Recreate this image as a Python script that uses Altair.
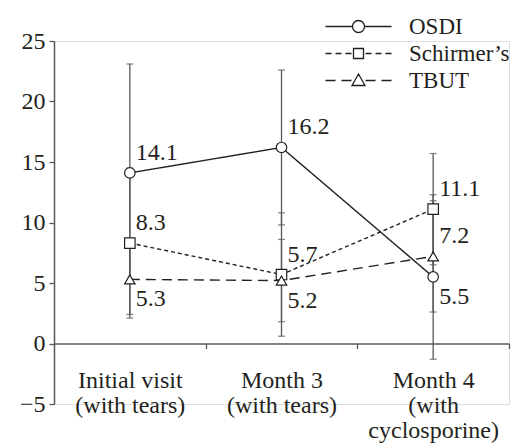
import altair as alt
import pandas as pd

# ---- data ----
visit_lines = [["Initial visit", "(with tears)"],
               ["Month 3", "(with tears)"],
               ["Month 4", "(with", "cyclosporine)"]]
series = ["OSDI", "Schirmer\u2019s", "TBUT"]
osdi_mean = [14.1, 16.2, 5.5]
osdi_sd = [9.0, 6.4, 6.8]
schirmer_mean = [8.3, 5.7, 11.1]
schirmer_sd = [6.2, 5.1, 4.6]
tbut_mean = [5.3, 5.2, 7.2]
tbut_sd = [2.9, 3.4, 4.6]
y_ticks = [-5, 0, 5, 10, 15, 20, 25]

means = [osdi_mean, schirmer_mean, tbut_mean]
sds = [osdi_sd, schirmer_sd, tbut_sd]
rows = []
for s, m, sd in zip(series, means, sds):
    for i in range(len(visit_lines)):
        rows.append({"series": s, "idx": i, "mean": m[i],
                     "lo": round(m[i] - sd[i], 2), "hi": round(m[i] + sd[i], 2)})
df = pd.DataFrame(rows)

# ---- layout / style ----
W, H = 455, 363
INK = "#231f20"
GREY = "#58595b"
FONT = "Liberation Serif"
FS = 24
y_lo, y_hi = y_ticks[0], y_ticks[-1]
zero_offset = -H * (0 - y_lo) / (y_hi - y_lo)
n = len(visit_lines)
step = W / n

label_arr = "[" + ",".join("[" + ",".join("'" + t + "'" for t in lines) + "]" for lines in visit_lines) + "]"

xscale = alt.Scale(domain=[-0.5, n - 0.5], nice=False, zero=False)
yscale = alt.Scale(domain=[y_lo, y_hi], nice=False, zero=False)
xaxis = alt.Axis(values=[i + 0.5 for i in range(n)], orient="bottom", offset=zero_offset,
                 labelExpr=f"{label_arr}[round(datum.value - 0.5)]",
                 labelOffset=-step / 2, labelPadding=20, labelFontSize=FS, labelLineHeight=25,
                 labelColor=INK, labelFont=FONT, labelAngle=0, labelFlush=False, labelOverlap=False,
                 domainColor=GREY, domainWidth=1.5, tickColor=GREY, tickWidth=1.3, tickSize=5,
                 grid=False, title=None)
yaxis = alt.Axis(values=y_ticks, labelFontSize=FS, labelColor=INK, labelFont=FONT, labelPadding=4,
                 domainColor=GREY, domainWidth=1.5, tickColor=GREY, tickWidth=1.3, tickSize=5,
                 grid=False, title=None)

X = alt.X("idx:Q", scale=xscale, axis=xaxis, title=None)

def Y(field):
    return alt.Y(field, scale=yscale, axis=yaxis, title=None)

base = alt.Chart(df)

rules = base.mark_rule(color=GREY, strokeWidth=1.3).encode(x=X, y=Y("lo:Q"), y2="hi:Q")
caps = base.transform_fold(["lo", "hi"], as_=["k", "v"]).mark_tick(
    orient="horizontal", color=GREY, size=7, thickness=1.3).encode(x=X, y=Y("v:Q"))

lines = base.mark_line(color=INK, strokeWidth=1.4).encode(
    x=X, y=Y("mean:Q"),
    strokeDash=alt.StrokeDash("series:N", scale=alt.Scale(domain=series, range=[[1, 0], [4, 3], [10, 6]]),
                              legend=None),
    detail="series:N")

points = base.mark_point(filled=True, fill="white", stroke=INK, strokeWidth=1.2, size=110, opacity=1).encode(
    x=X, y=Y("mean:Q"),
    shape=alt.Shape("series:N", scale=alt.Scale(domain=series, range=["circle", "square", "triangle-up"]),
                    legend=None))

ranked = base.transform_window(rank="rank()", sort=[alt.SortField("mean", order="ascending")], groupby=["idx"])
labels_below = ranked.transform_filter("datum.rank == 1").mark_text(
    align="left", baseline="middle", dx=6, dy=20, fontSize=24, font=FONT, color=INK).encode(
    x=X, y=Y("mean:Q"), text=alt.Text("mean:Q", format=".1f"))
labels_above = ranked.transform_filter("datum.rank > 1").mark_text(
    align="left", baseline="middle", dx=6, dy=-20, fontSize=24, font=FONT, color=INK).encode(
    x=X, y=Y("mean:Q"), text=alt.Text("mean:Q", format=".1f"))

# legend glyphs: line + marker as custom symbol paths (pixel units at symbolSize 4)
osdi_path = "M-33,0H-6M6,0H33M-6,0A6,6 0 1,1 6,0A6,6 0 1,1 -6,0Z"
schir_path = "M-33,0H-27M-23,0H-17M-13,0H-7M7,0H13M17,0H23M27,0H33M-5,-5H5V5H-5Z"
tbut_path = "M-33,0H-23M-17,0H-7M7,0H17M23,0H33M0,-6.5L6.5,5L-6.5,5Z"

legend_layer = base.transform_filter("false").mark_point(filled=False, stroke=INK).encode(
    shape=alt.Shape("series:N", scale=alt.Scale(domain=series, range=[osdi_path, schir_path, tbut_path]),
                    legend=alt.Legend(title=None, orient="none", legendX=293, legendY=-26,
                                      symbolSize=4, symbolStrokeWidth=1.3, symbolStrokeColor=INK,
                                      symbolFillColor="white", symbolOpacity=1,
                                      labelFontSize=23, labelFont=FONT, labelColor=INK,
                                      labelOffset=39, rowPadding=3, padding=0)))

chart = alt.layer(rules, caps, lines, points, labels_below, labels_above, legend_layer).resolve_scale(
    shape="independent").properties(
    width=W, height=H, autosize=alt.AutoSizeParams(type="none"),
    padding={"left": 46, "top": 33, "right": 2, "bottom": 40}
).configure_view(stroke=None).configure(font=FONT, background="white")

chart.save("out.html", embed_options={"renderer": "svg", "actions": False})
